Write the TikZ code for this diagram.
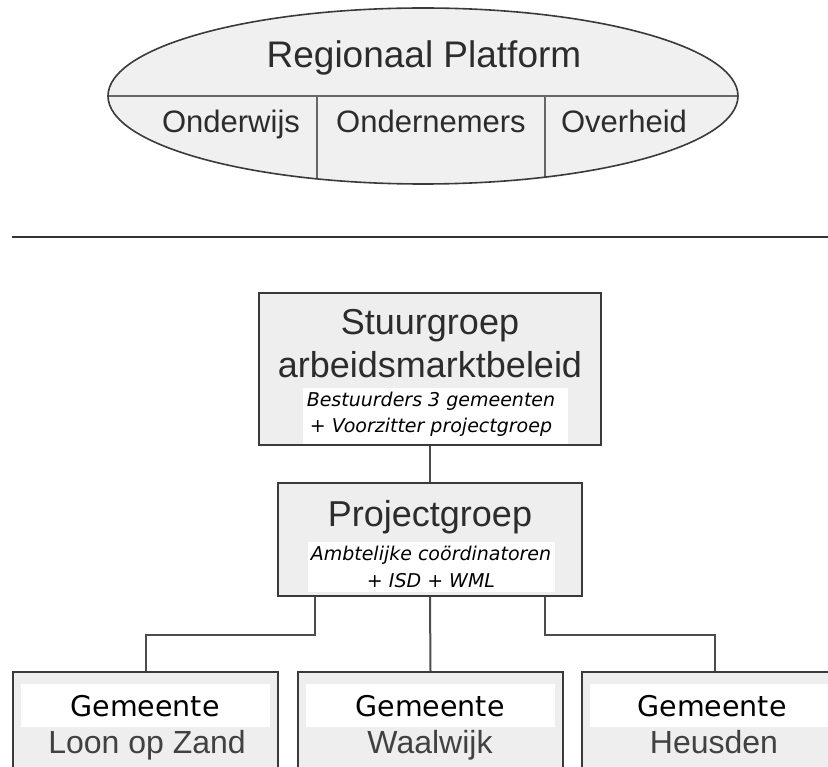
\documentclass[tikz,border=0pt]{standalone}
\usepackage{fontspec}
\setmainfont{Liberation Sans}
\newfontfamily\dvs{DejaVu Sans}
\usetikzlibrary{shapes.geometric}
\definecolor{boxfill}{HTML}{EEEEEE}
\definecolor{ellfill}{HTML}{F0F0F0}
\definecolor{edge}{HTML}{3A3A3A}
\definecolor{txt}{HTML}{2C2C2C}
\definecolor{conncol}{HTML}{4C4C4C}
\begin{document}
\begin{tikzpicture}[x=1pt,y=-1pt,
  box/.style={draw=edge,line width=2pt,fill=boxfill,rectangle,inner sep=0pt},
  conn/.style={draw=conncol,line width=2pt},
  big/.style={font=\fontsize{36}{36}\selectfont,text=txt,anchor=base,inner sep=0pt},
  ell/.style={font=\fontsize{31}{31}\selectfont,text=txt,anchor=base,inner sep=0pt},
  sub/.style={font=\dvs\itshape\fontsize{19}{19}\selectfont,text=black,anchor=base,inner sep=0pt},
  gem/.style={font=\dvs\fontsize{28.5}{28.5}\selectfont,text=black,anchor=base,inner sep=0pt},
  place/.style={font=\fontsize{32}{32}\selectfont,text=txt!90!white,anchor=base,inner sep=0pt},
  gbox/.style={box,minimum width=265pt,minimum height=130pt}]
\useasboundingbox (0,0) rectangle (828,767);
\clip (0,0) rectangle (828,767);

% ---- Regionaal Platform ellipse ----
\node[ellipse,fill=ellfill,minimum width=630pt,minimum height=176pt,inner sep=0pt] (ellp) at (423,96) {};
\begin{scope}
  \clip (ellp.center) ellipse [x radius=315pt,y radius=88pt];
  \draw[conn,line width=2.5pt,draw=black!60] (ellp.west) -- (ellp.east);
  \draw[conn,line width=2.5pt,draw=black!60] ([xshift=-106pt]ellp.center) -- ++(0,110);
  \draw[conn,line width=2.5pt,draw=black!60] ([xshift=122pt]ellp.center) -- ++(0,110);
\end{scope}
\draw[draw=edge,line width=1.6pt] (ellp.center) ellipse [x radius=315pt,y radius=88pt];
\node[font=\fontsize{37}{37}\selectfont,text=txt,anchor=base,inner sep=0pt] (rp) at (424,68) {Regionaal Platform};
\node[ell] (ow) at (231,133) {Onderwijs};
\node[ell] (on) at (431,133) {Ondernemers};
\node[ell] (ov) at (624,133) {Overheid};

% ---- separator ----
\coordinate (sepL) at (12,237);
\coordinate (sepR) at (828,237);
\draw[line width=2.5pt,draw=black!80] (sepL) -- (sepR);

% ---- Stuurgroep ----
\node[box,minimum width=342pt,minimum height=152pt] (stuur) at (430,369) {};
\fill[white] (303,388) rectangle (568,444);
\node[big] (st1) at (430,335) {Stuurgroep};
\node[big] (st2) at (430,378) {arbeidsmarktbeleid};
\node[sub] (st3) at (431,407) {Bestuurders 3 gemeenten};
\node[sub] (st4) at (431,433) {+ Voorzitter projectgroep};

% ---- Projectgroep ----
\node[box,minimum width=304pt,minimum height=113pt] (proj) at (430,539.5) {};
\fill[white] (308,542) rectangle (555,592);
\node[big] (pg1) at (430,526) {Projectgroep};
\node[sub] (pg2) at (431,560) {Ambtelijke coördinatoren};
\node[sub] (pg3) at (431,587) {+ ISD + WML};

% ---- Gemeenten ----
\node[gbox] (g1) at (145.5,737) {};
\node[gbox] (g2) at (430.5,737) {};
\node[gbox] (g3) at (714.5,737) {};
\fill[white] (21,684) rectangle (270,727);
\fill[white] (306,684) rectangle (555,727);
\fill[white] (590,684) rectangle (839,727);
\node[gem] (g1a) at (145,716) {Gemeente};
\node[gem] (g2a) at (430,716) {Gemeente};
\node[gem] (g3a) at (712,716) {Gemeente};
\node[place] (g1b) at (147,753) {Loon op Zand};
\node[place] (g2b) at (430,753) {Waalwijk};
\node[place] (g3b) at (714,753) {Heusden};

% ---- connectors ----
\draw[conn] (stuur.south) -- (proj.north);
\draw[conn] ([xshift=-115pt]proj.south) -- ++(0,38) -| (g1.north);
\draw[conn] (proj.south) -- (g2.north);
\draw[conn] ([xshift=115pt]proj.south) -- ++(0,38) -| (g3.north);
\end{tikzpicture}
\end{document}
